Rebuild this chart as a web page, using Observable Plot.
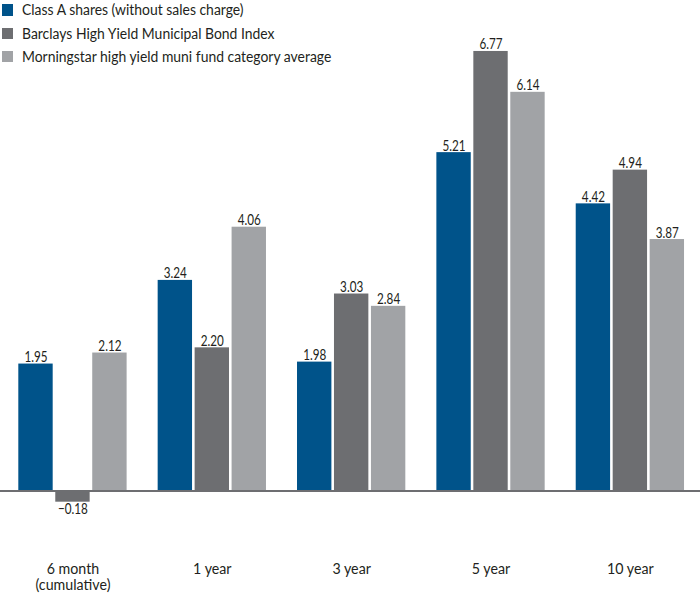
<!DOCTYPE html>
<html><head><meta charset="utf-8">
<script src="https://cdn.jsdelivr.net/npm/d3@7"></script>
<script src="https://cdn.jsdelivr.net/npm/@observablehq/plot@0.6"></script>
<style>
body{margin:0;background:#fff;font-family:Lato,"DejaVu Sans Condensed",sans-serif;}
#wrap{position:relative;width:700px;height:593px;overflow:hidden;}
#legend{position:absolute;left:0;top:-1.7px;}
.row{display:flex;align-items:center;height:23.3px;font-size:14.5px;color:#231f20;white-space:nowrap;}
.sw{width:11.5px;height:11.5px;margin-left:1.7px;margin-right:8.5px;flex:none;}
.lt{display:inline-block;transform:scaleX(0.96);transform-origin:left center;}
</style></head>
<body>
<div id="wrap"><div id="chart"></div><div id="legend"></div></div>
<script>
const periods = ["6 month\n(cumulative)", "1 year", "3 year", "5 year", "10 year"];
const series = [
  "Class A shares (without sales charge)",
  "Barclays High Yield Municipal Bond Index",
  "Morningstar high yield muni fund category average"
];
const classA = [1.95, 3.24, 1.98, 5.21, 4.42];
const barclays = [-0.18, 2.20, 3.03, 6.77, 4.94];
const morningstar = [2.12, 4.06, 2.84, 6.14, 3.87];
const colors = ["#00538a", "#6d6e71", "#a1a3a6"];

const valuesBySeries = [classA, barclays, morningstar];
const data = [];
periods.forEach((p, i) => {
  series.forEach((s, j) => data.push({period: p, series: s, value: valuesBySeries[j][i]}));
});
const fmt = d3.format(".2f");
const FONT = 'Lato,"DejaVu Sans Condensed",sans-serif';

const chart = Plot.plot({
  width: 700, height: 593,
  marginTop: 36.05, marginBottom: 73.8, marginLeft: 0, marginRight: 0,
  style: {fontFamily: FONT, fontSize: "15px", color: "#231f20", background: "transparent", overflow: "visible"},
  fx: {domain: periods, paddingInner: 0.2228, paddingOuter: 0.123, align: 0.534, label: null, round: false},
  x: {domain: series, paddingInner: 0.07, paddingOuter: 0, axis: null, round: false},
  y: {domain: [-0.45, 7.0], axis: null},
  color: {domain: series, range: colors},
  marks: [
    Plot.barY(data, {fx: "period", x: "series", y: "value", fill: "series"}),
    Plot.ruleY([0], {stroke: "#6d6e71", strokeWidth: 2, insetLeft: -19, insetRight: -19, shapeRendering: "crispEdges"}),
    Plot.text(data.filter(d => d.value >= 0), {fx: "period", x: "series", y: "value", text: d => fmt(d.value), lineAnchor: "bottom", dy: -2, fontSize: 15, fill: "#231f20", className: "vlab"}),
    Plot.text(data.filter(d => d.value < 0), {fx: "period", x: "series", y: "value", text: d => fmt(d.value), lineAnchor: "top", dy: 1.5, fontSize: 15, fill: "#231f20", className: "vlab"}),
    Plot.axisFx({anchor: "bottom", tickSize: 0, tickPadding: 42, fontSize: 15, lineHeight: 1.12, label: null, className: "alab"})
  ]
});

function squeeze(sel, s) {
  chart.querySelectorAll(sel).forEach(t => {
    const tr = t.getAttribute("transform");
    if (tr) t.setAttribute("transform", tr + ` scale(${s},1)`);
    else {
      const x = +(t.getAttribute("x") || 0);
      t.setAttribute("transform", `translate(${x},0) scale(${s},1) translate(${-x},0)`);
    }
  });
}
squeeze(".vlab text", 0.78);
squeeze(".alab text", 0.95);
document.getElementById("chart").appendChild(chart);

const legend = document.getElementById("legend");
series.forEach((s, j) => {
  const row = document.createElement("div");
  row.className = "row";
  const sw = document.createElement("span");
  sw.className = "sw";
  sw.style.background = colors[j];
  const t = document.createElement("span");
  t.className = "lt";
  t.textContent = s;
  row.appendChild(sw); row.appendChild(t);
  legend.appendChild(row);
});
</script>
</body></html>
